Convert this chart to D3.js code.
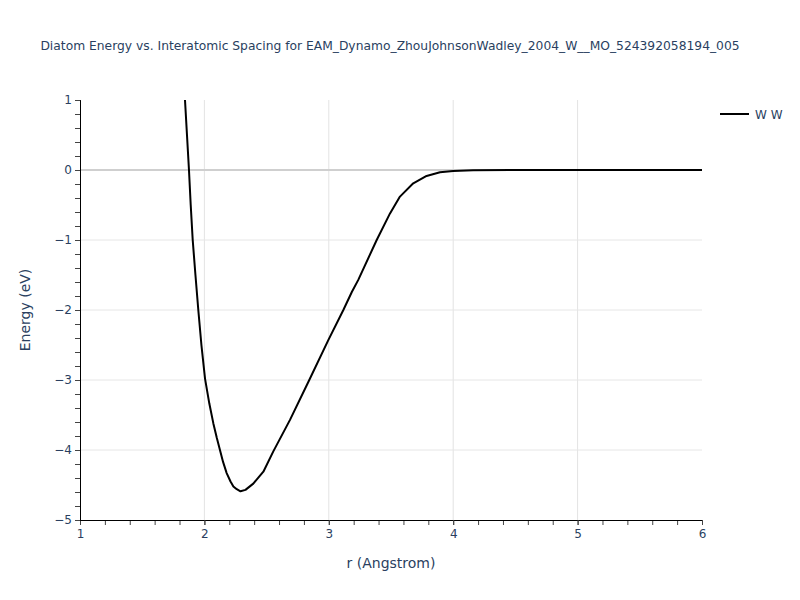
<!DOCTYPE html>
<html>
<head>
<meta charset="utf-8">
<script src="https://cdn.jsdelivr.net/npm/d3@7"></script>
<style>
  body { margin: 0; background: #fff; }
  svg { font-family: "DejaVu Sans", sans-serif; }
</style>
</head>
<body>
<svg id="chart" width="800" height="600"></svg>
<script>
const titleText = "Diatom Energy vs. Interatomic Spacing for EAM_Dynamo_ZhouJohnsonWadley_2004_W__MO_524392058194_005";
const seriesName = "W W";
const rValues = [1.844, 1.86, 1.876, 1.89, 1.906, 1.928, 1.951, 1.976, 2.005, 2.04, 2.072, 2.1, 2.125, 2.15, 2.179, 2.21, 2.233, 2.26, 2.29, 2.33, 2.393, 2.474, 2.554, 2.688, 2.843, 2.996, 3.117, 3.186, 3.237, 3.385, 3.492, 3.572, 3.679, 3.786, 3.894, 4.0, 4.16, 4.5, 5.0, 5.5, 6.0];
const energyValues = [1.0, 0.5, 0.0, -0.5, -1.0, -1.5, -2.0, -2.5, -2.98, -3.34, -3.62, -3.83, -4.0, -4.17, -4.33, -4.45, -4.52, -4.56, -4.59, -4.57, -4.48, -4.31, -4.02, -3.57, -3.0, -2.43, -2.0, -1.74, -1.57, -1.0, -0.62, -0.38, -0.19, -0.085, -0.033, -0.014, -0.003, 0, 0, 0, 0];
const xTicks = [1, 2, 3, 4, 5, 6];
const yTicks = [1, 0, -1, -2, -3, -4, -5];

const svg = d3.select("#chart");
const mLeft = 80, mRight = 702, mTop = 100, mBottom = 520;
const x = d3.scaleLinear().domain([1, 6]).range([mLeft, mRight]);
const y = d3.scaleLinear().domain([-5, 1]).range([mBottom, mTop]);
const textColor = "#2a3f5f";
const fontFam = "'DejaVu Sans', sans-serif";
const fmt = v => (v < 0 ? "\u2212" + Math.abs(v) : String(v));

// grid
svg.append("g").selectAll("line").data(xTicks.filter(t => t > 1 && t < 6)).join("line")
  .attr("x1", d => x(d)).attr("x2", d => x(d)).attr("y1", mTop).attr("y2", mBottom)
  .attr("stroke", "#e3e3e3").attr("stroke-width", 1);
svg.append("g").selectAll("line").data(yTicks.filter(t => t !== 0 && t > -5 && t < 1)).join("line")
  .attr("x1", mLeft).attr("x2", mRight).attr("y1", d => y(d)).attr("y2", d => y(d))
  .attr("stroke", "#e6e6e6").attr("stroke-width", 1);
svg.append("line").attr("x1", mLeft).attr("x2", mRight).attr("y1", y(0)).attr("y2", y(0))
  .attr("stroke", "#cfcfcf").attr("stroke-width", 2);

// axes
const xAxis = d3.axisBottom(x).tickValues(xTicks).tickFormat(fmt).tickSize(5).tickPadding(4);
const xMinor = d3.axisBottom(x).tickValues(d3.range(1, 6.001, 0.2)).tickFormat("").tickSize(5);
const yAxis = d3.axisLeft(y).tickValues(yTicks).tickFormat(fmt).tickSize(5).tickPadding(3);
const yMinor = d3.axisLeft(y).tickValues(d3.range(-5, 1.001, 0.2)).tickFormat("").tickSize(5);

function styleAxis(g) {
  g.select(".domain").attr("stroke", "#000").attr("stroke-width", 1);
  g.selectAll(".tick line").attr("stroke", "#444");
  g.selectAll("text").attr("fill", textColor).attr("font-size", 12)
    .attr("font-family", fontFam);
}
svg.append("g").attr("transform", `translate(0,${mBottom})`).call(xMinor).call(styleAxis);
svg.append("g").attr("transform", `translate(0,${mBottom})`).call(xAxis).call(styleAxis);
svg.append("g").attr("transform", `translate(${mLeft},0)`).call(yMinor).call(styleAxis);
svg.append("g").attr("transform", `translate(${mLeft},0)`).call(yAxis).call(styleAxis);

// line
svg.append("clipPath").attr("id", "clip").append("rect")
  .attr("x", mLeft).attr("y", mTop).attr("width", mRight - mLeft).attr("height", mBottom - mTop);
const pts = rValues.map((r, i) => [r, energyValues[i]]);
svg.append("path").datum(pts)
  .attr("clip-path", "url(#clip)")
  .attr("fill", "none").attr("stroke", "#000").attr("stroke-width", 2)
  .attr("stroke-linejoin", "round")
  .attr("d", d3.line().x(d => x(d[0])).y(d => y(d[1])));

// title
svg.append("text").attr("x", 390).attr("y", 50)
  .attr("text-anchor", "middle").attr("fill", textColor).attr("font-size", 12.3)
  .text(titleText);

// axis titles
svg.append("text").attr("x", (mLeft + mRight) / 2).attr("y", 568)
  .attr("text-anchor", "middle").attr("fill", textColor).attr("font-size", 14)
  .text("r (Angstrom)");
svg.append("text").attr("transform", `translate(30,${(mTop + mBottom) / 2}) rotate(-90)`)
  .attr("text-anchor", "middle").attr("fill", textColor).attr("font-size", 14)
  .text("Energy (eV)");

// legend
svg.append("line").attr("x1", 720).attr("x2", 749).attr("y1", 114).attr("y2", 114)
  .attr("stroke", "#000").attr("stroke-width", 2);
svg.append("text").attr("x", 755).attr("y", 118.5).attr("fill", textColor)
  .attr("font-size", 12).text(seriesName);
</script>
</body>
</html>
